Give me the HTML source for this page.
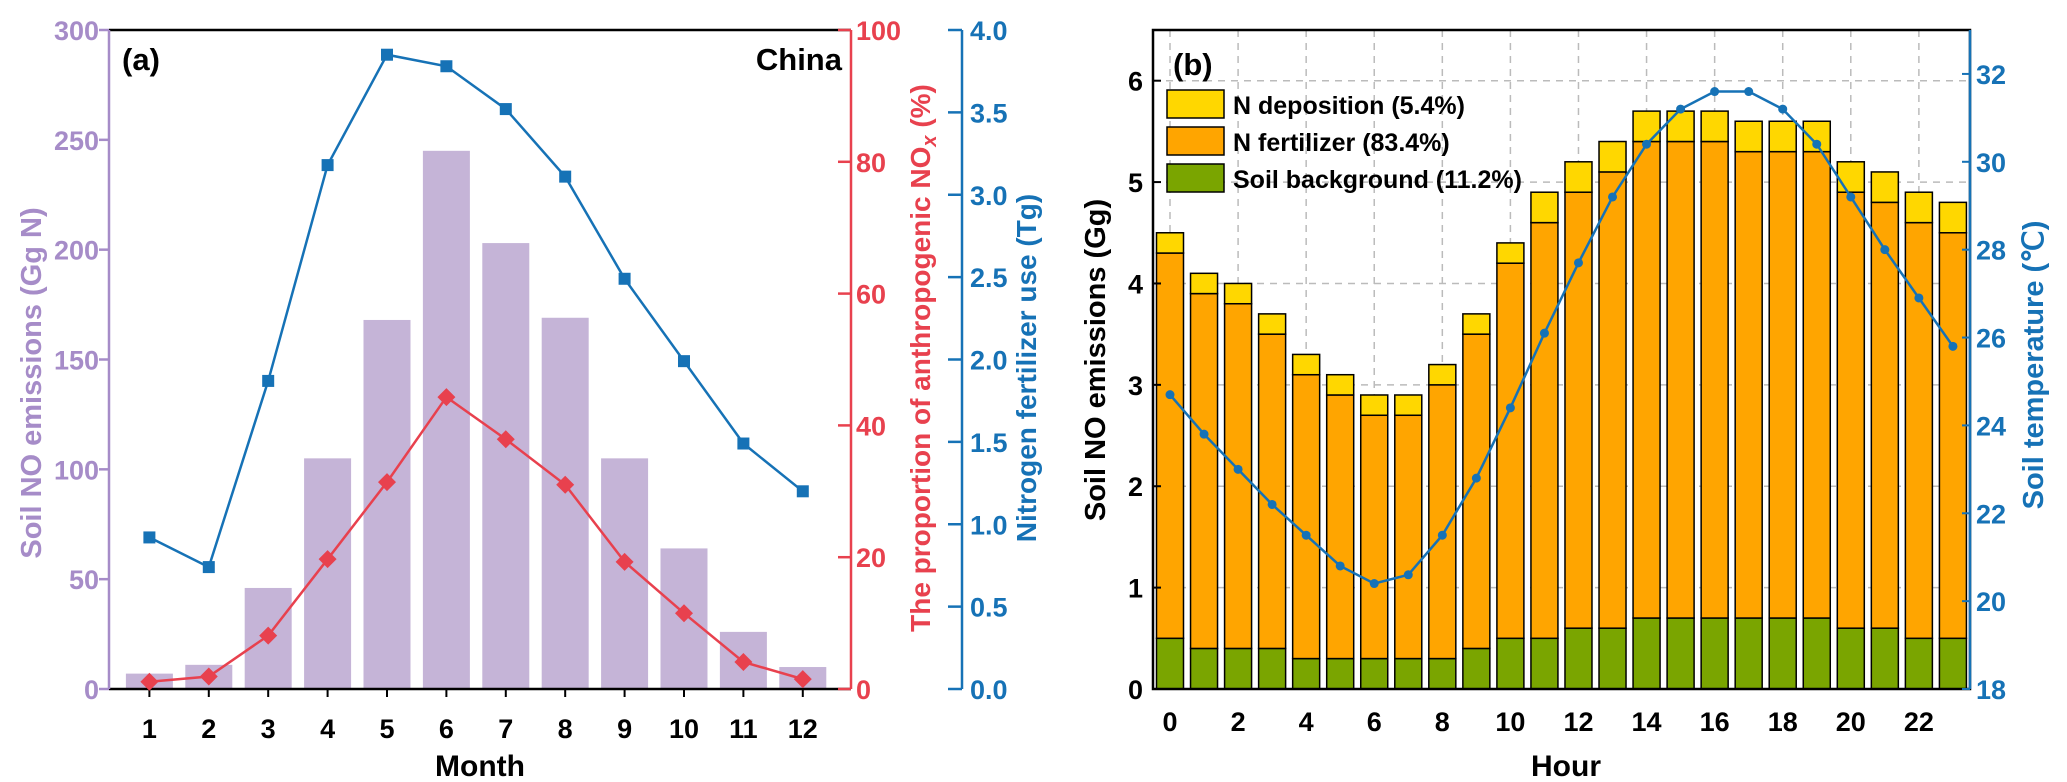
<!DOCTYPE html>
<html><head><meta charset="utf-8"><style>
html,body{margin:0;padding:0;background:#fff;}
svg{display:block;font-family:"Liberation Sans",Arial,sans-serif;font-weight:bold;}
</style></head><body>
<svg id="chart" width="2067" height="782" viewBox="0 0 2067 782" xmlns="http://www.w3.org/2000/svg"></svg>
<script>
// ---- Panel (a) data ----
const months = [1,2,3,4,5,6,7,8,9,10,11,12];
const soilNO = [7,11,46,105,168,245,203,169,105,64,26,10];
const anthroPct = [1.1,1.9,8.1,19.7,31.4,44.3,37.9,31,19.3,11.5,4.1,1.5];
const fertUse = [0.92,0.74,1.87,3.18,3.85,3.78,3.52,3.11,2.49,1.99,1.49,1.2];
const leftTicks = [0,50,100,150,200,250,300];
const redTicks = [0,20,40,60,80,100];
const blueTicks = ["0.0","0.5","1.0","1.5","2.0","2.5","3.0","3.5","4.0"];
// ---- Panel (b) data ----
const hours = [0,1,2,3,4,5,6,7,8,9,10,11,12,13,14,15,16,17,18,19,20,21,22,23];
const background = [0.5,0.4,0.4,0.4,0.3,0.3,0.3,0.3,0.3,0.4,0.5,0.5,0.6,0.6,0.7,0.7,0.7,0.7,0.7,0.7,0.6,0.6,0.5,0.5];
const fertilizer = [3.8,3.5,3.4,3.1,2.8,2.6,2.4,2.4,2.7,3.1,3.7,4.1,4.3,4.5,4.7,4.7,4.7,4.6,4.6,4.6,4.3,4.2,4.1,4.0];
const deposition = [0.2,0.2,0.2,0.2,0.2,0.2,0.2,0.2,0.2,0.2,0.2,0.3,0.3,0.3,0.3,0.3,0.3,0.3,0.3,0.3,0.3,0.3,0.3,0.3];
const soilTemp = [24.7,23.8,23.0,22.2,21.5,20.8,20.4,20.6,21.5,22.8,24.4,26.1,27.7,29.2,30.4,31.2,31.6,31.6,31.2,30.4,29.2,28.0,26.9,25.8];
const bYTicks = [0,1,2,3,4,5,6];
const tempTicks = [18,20,22,24,26,28,30,32];
const hourTicks = [0,2,4,6,8,10,12,14,16,18,20,22];

const NS="http://www.w3.org/2000/svg";
const svg=document.getElementById('chart');
function mk(tag,attrs,parent){const e=document.createElementNS(NS,tag);for(const k in attrs)e.setAttribute(k,attrs[k]);(parent||svg).appendChild(e);return e;}
function txt(s,attrs,parent){const e=mk('text',attrs,parent);e.textContent=s;return e;}

const PUR="#a68cc8", BAR="#c5b4d7", RED="#e8414e", BLUE="#1672b6";
const FS=27;
const pTop=30, pBot=689;
const ax0=109, ax1=851;
const xa=m=>ax0+(m-0.32)*59.4;
const yL=v=>pBot-(v/300)*(pBot-pTop);
const yR=v=>pBot-(v/100)*(pBot-pTop);
const yB=v=>pBot-(v/4)*(pBot-pTop);

const gA=mk('g',{});

months.forEach((m,i)=>{const r=mk('rect',{x:xa(m)-23.5,y:yL(soilNO[i]),width:47,height:pBot-yL(soilNO[i]),fill:BAR},gA);
});
let l=mk('line',{x1:ax0,y1:pTop,x2:ax1,y2:pTop,stroke:'#000','stroke-width':2.5},gA);
l=mk('line',{x1:ax0,y1:pBot,x2:ax1,y2:pBot,stroke:'#000','stroke-width':2.5},gA);
l=mk('line',{x1:ax0,y1:pTop,x2:ax0,y2:pBot,stroke:PUR,'stroke-width':2.5},gA);
l=mk('line',{x1:ax1,y1:pTop,x2:ax1,y2:pBot,stroke:RED,'stroke-width':2.5},gA);
l=mk('line',{x1:962,y1:pTop,x2:962,y2:pBot,stroke:BLUE,'stroke-width':2.5},gA);
leftTicks.forEach(v=>{mk('line',{x1:ax0-10,y1:yL(v),x2:ax0,y2:yL(v),stroke:PUR,'stroke-width':2.5},gA);
const t=txt(String(v),{x:ax0-10,y:yL(v)+10,'text-anchor':'end','font-size':FS,fill:PUR},gA);});
redTicks.forEach(v=>{mk('line',{x1:ax1-13,y1:yR(v),x2:ax1,y2:yR(v),stroke:RED,'stroke-width':2.5},gA);
const t=txt(String(v),{x:856,y:yR(v)+10,'font-size':FS,fill:RED},gA);});
blueTicks.forEach(v=>{const y=yB(parseFloat(v));mk('line',{x1:948,y1:y,x2:962,y2:y,stroke:BLUE,'stroke-width':2.5},gA);
const t=txt(v,{x:970,y:y+10,'font-size':FS,fill:BLUE},gA);});
months.forEach(m=>{mk('line',{x1:xa(m),y1:pBot,x2:xa(m),y2:pBot+8,stroke:'#000','stroke-width':2},gA);
const t=txt(String(m),{x:xa(m),y:738,'text-anchor':'middle','font-size':FS,fill:'#000'},gA);});
let p=mk('polyline',{points:months.map((m,i)=>xa(m)+','+yB(fertUse[i])).join(' '),fill:'none',stroke:BLUE,'stroke-width':2.5},gA);

months.forEach((m,i)=>{const r=mk('rect',{x:xa(m)-6,y:yB(fertUse[i])-6,width:12,height:12,fill:BLUE},gA);});
p=mk('polyline',{points:months.map((m,i)=>xa(m)+','+yR(anthroPct[i])).join(' '),fill:'none',stroke:RED,'stroke-width':2.5},gA);

months.forEach((m,i)=>{const x=xa(m),y=yR(anthroPct[i]);const d=mk('polygon',{points:`${x},${y-9} ${x+9},${y} ${x},${y+9} ${x-9},${y}`,fill:RED},gA);});
let t;
t=txt('(a)',{x:122,y:70,'font-size':31,fill:'#000'},gA);
t=txt('China',{x:842,y:70,'text-anchor':'end','font-size':31,fill:'#000'},gA);
t=txt('Month',{x:480,y:776,'text-anchor':'middle','font-size':30,fill:'#000'},gA);
t=txt('Soil NO emissions (Gg N)',{x:0,y:0,'text-anchor':'middle','font-size':29,fill:PUR,transform:'translate(41,383) rotate(-90)'},gA);
t=mk('text',{x:0,y:0,'text-anchor':'middle','font-size':28,fill:RED,transform:'translate(930,358) rotate(-90)'},gA);

const s1=mk('tspan',{},t);s1.textContent='The proportion of anthropogenic NO';
const s2=mk('tspan',{'font-style':'italic','font-size':20,dy:6},t);s2.textContent='x';
const s3=mk('tspan',{dy:-6},t);s3.textContent=' (%)';
t=txt('Nitrogen fertilizer use (Tg)',{x:0,y:0,'text-anchor':'middle','font-size':28,fill:BLUE,transform:'translate(1036,368) rotate(-90)'},gA);

// ---- Panel b ----
const bx0=1153,bx1=1970;
const xb=h=>bx0+17+h*34.04;
const yb=v=>pBot-(v/6.5)*(pBot-pTop);
const yt=v=>pBot-((v-18)/15)*(pBot-pTop);
const gB=mk('g',{});

hourTicks.forEach(h=>{mk('line',{x1:xb(h),y1:pTop,x2:xb(h),y2:pBot,stroke:'#bbb','stroke-width':1.5,'stroke-dasharray':'7,6'},gB);});
bYTicks.slice(1).forEach(v=>{mk('line',{x1:bx0,y1:yb(v),x2:bx1,y2:yb(v),stroke:'#bbb','stroke-width':1.5,'stroke-dasharray':'7,6'},gB);});
hours.forEach((h,i)=>{
 const b0=background[i],b1=b0+fertilizer[i],b2=b1+deposition[i];
 [[0,b0,'#7aa500','bar-background'],[b0,b1,'#ffa500','bar-fertilizer'],[b1,b2,'#ffd700','bar-deposition']].forEach(s=>{
  const r=mk('rect',{x:xb(h)-13.5,y:yb(s[1]),width:27,height:yb(s[0])-yb(s[1]),fill:s[2],stroke:'#000','stroke-width':1.5},gB);
  });
});
l=mk('rect',{x:bx0,y:pTop,width:bx1-bx0,height:pBot-pTop,fill:'none',stroke:'#000','stroke-width':2.5},gB);
l=mk('line',{x1:bx1,y1:pTop,x2:bx1,y2:pBot,stroke:BLUE,'stroke-width':2.5},gB);
bYTicks.forEach(v=>{mk('line',{x1:bx0,y1:yb(v),x2:bx0+8,y2:yb(v),stroke:'#000','stroke-width':2},gB);
t=txt(String(v),{x:1143,y:yb(v)+10,'text-anchor':'end','font-size':FS,fill:'#000'},gB);});
tempTicks.forEach(v=>{mk('line',{x1:bx1-8,y1:yt(v),x2:bx1,y2:yt(v),stroke:BLUE,'stroke-width':2},gB);
t=txt(String(v),{x:1976,y:yt(v)+10,'font-size':FS,fill:BLUE},gB);});
hourTicks.forEach(h=>{t=txt(String(h),{x:xb(h),y:731,'text-anchor':'middle','font-size':FS,fill:'#000'},gB);});
const pts=hours.map((h,i)=>[xb(h),yt(soilTemp[i])]);
p=mk('polyline',{points:pts.map(q=>q[0]+','+q[1]).join(' '),fill:'none',stroke:BLUE,'stroke-width':2.5},gB);
pts.forEach(q=>{const c=mk('circle',{cx:q[0],cy:q[1],r:4.5,fill:BLUE},gB);});
const leg=[['N deposition (5.4%)','#ffd700'],['N fertilizer (83.4%)','#ffa500'],['Soil background (11.2%)','#7aa500']];
const lg=mk('g',{},gB);
leg.forEach((e,i)=>{const y=90+i*37;
 const r=mk('rect',{x:1167,y:y,width:57,height:28,fill:e[1],stroke:'#000','stroke-width':1.5},lg);
 const tt=txt(e[0],{x:1233,y:y+24,'font-size':25,fill:'#000'},lg);});
t=txt('(b)',{x:1173,y:75,'font-size':31,fill:'#000'},gB);
t=txt('Hour',{x:1566,y:776,'text-anchor':'middle','font-size':30,fill:'#000'},gB);
t=txt('Soil NO emissions (Gg)',{x:0,y:0,'text-anchor':'middle','font-size':29,fill:'#000',transform:'translate(1105,360) rotate(-90)'},gB);
t=txt('Soil temperature (℃)',{x:0,y:0,'text-anchor':'middle','font-size':29,fill:BLUE,transform:'translate(2043,365) rotate(-90)'},gB);
</script>
</body></html>
